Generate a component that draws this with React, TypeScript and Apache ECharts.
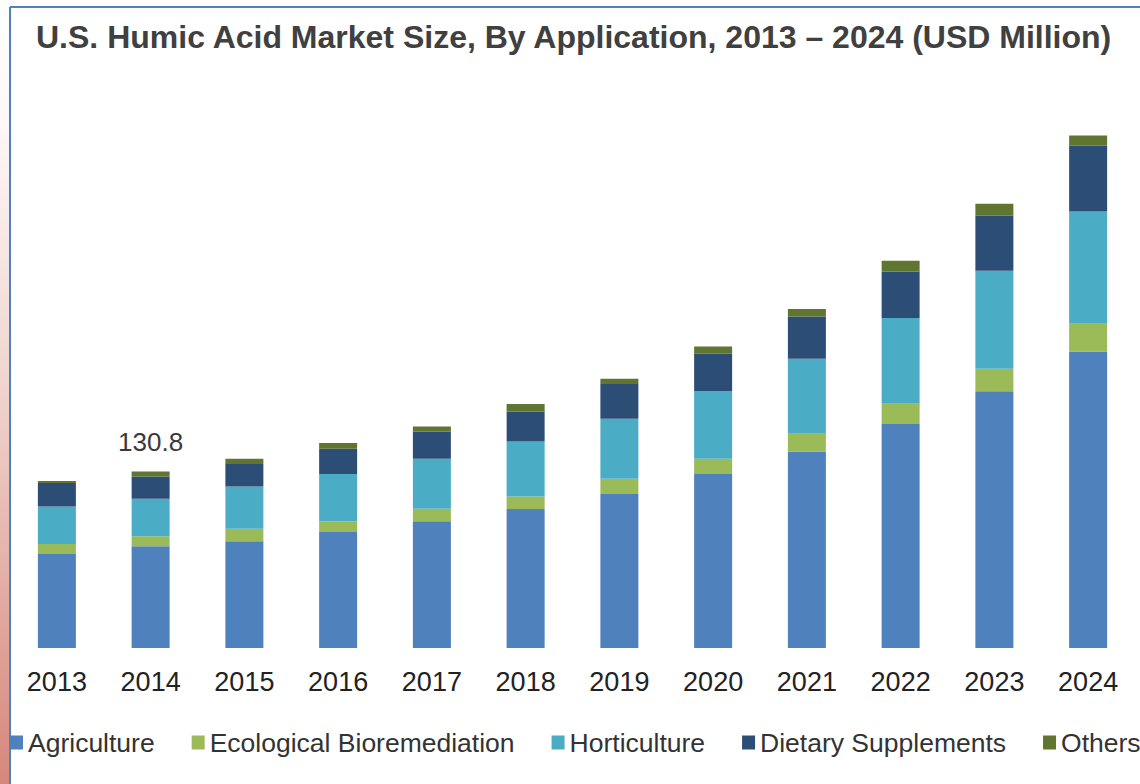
import React, { useEffect, useRef } from "react";
import * as echarts from "echarts";

const years = ["2013", "2014", "2015", "2016", "2017", "2018", "2019", "2020", "2021", "2022", "2023", "2024"];
const agriculture = [69.6, 75.3, 79.0, 85.9, 93.8, 103.0, 114.1, 128.9, 145.6, 165.9, 190.1, 219.7];
const ecological = [7.4, 7.4, 9.4, 7.9, 9.4, 9.3, 11.3, 11.3, 13.1, 15.0, 16.8, 20.5];
const horticulture = [27.9, 27.9, 31.3, 35.1, 37.0, 40.7, 44.4, 49.9, 55.6, 63.5, 72.6, 83.2];
const dietary = [17.3, 16.5, 16.6, 18.7, 20.2, 22.2, 25.7, 27.9, 31.3, 34.5, 40.7, 48.7];
const others = [1.5, 3.7, 3.9, 4.2, 3.7, 5.5, 3.9, 5.4, 5.5, 7.9, 8.9, 7.6];
const labeledIndex = 1;

const seriesNames = ["Agriculture", "Ecological Bioremediation", "Horticulture", "Dietary Supplements", "Others"];
const seriesColors = ["#4f81bd", "#9bbb59", "#4bacc6", "#2c4d75", "#5f7530"];

export default function App() {
  const ref = useRef<HTMLDivElement>(null);
  useEffect(() => {
    if (!ref.current) return;
    const chart = echarts.init(ref.current, undefined, { renderer: "svg" });
    const all = [agriculture, ecological, horticulture, dietary, others];
    const total = all.reduce((s, arr) => s + arr[labeledIndex], 0);
    const series = all.map((arr, si) => ({
      name: seriesNames[si],
      type: "bar",
      stack: "total",
      barWidth: 38,
      itemStyle: { color: seriesColors[si] },
      data:
        si === all.length - 1
          ? arr.map((v, i) =>
              i === labeledIndex
                ? {
                    value: v,
                    label: {
                      show: true,
                      position: "top",
                      distance: 16,
                      formatter: () => total.toFixed(1),
                      fontSize: 26,
                      color: "#3a3a3a",
                      fontFamily: "Liberation Sans, Arial, sans-serif",
                    },
                  }
                : v
            )
          : arr,
    }));
    chart.setOption({
      animation: false,
      backgroundColor: "#ffffff",
      textStyle: { fontFamily: "Liberation Sans, Arial, sans-serif" },
      title: {
        text: "U.S. Humic Acid Market Size, By Application, 2013 – 2024 (USD Million)",
        left: 36,
        top: 21,
        padding: 0,
        textStyle: {
          fontSize: 32,
          fontWeight: "bold",
          color: "#404040",
          fontFamily: "Liberation Sans, Arial, sans-serif",
        },
      },
      legend: {
        left: 10,
        top: 729,
        width: 1400,
        padding: 0,
        itemGap: 37,
        itemWidth: 13,
        itemHeight: 14,
        icon: "rect",
        textStyle: { fontSize: 26.5, color: "#333333", fontFamily: "Liberation Sans, Arial, sans-serif" },
        data: seriesNames,
      },
      grid: { left: 10, right: 5, top: 108, bottom: 136, containLabel: false },
      xAxis: {
        type: "category",
        data: years,
        axisLine: { show: false },
        axisTick: { show: false },
        axisLabel: { fontSize: 27, color: "#222222", margin: 20, fontFamily: "Liberation Sans, Arial, sans-serif" },
      },
      yAxis: {
        type: "value",
        min: 0,
        max: 400,
        show: false,
        splitLine: { show: false },
      },
      graphic: [
        {
          type: "rect",
          shape: { x: 0, y: 0, width: 9, height: 784 },
          style: {
            fill: new echarts.graphic.LinearGradient(0, 0, 0, 1, [
              { offset: 0, color: "#ffffff" },
              { offset: 0.15, color: "#fdf8f7" },
              { offset: 0.5, color: "#f0d3cd" },
              { offset: 1, color: "#d6877a" },
            ]),
          },
          z: 10,
        },
        {
          type: "line",
          shape: { x1: 10, y1: 7, x2: 10, y2: 784 },
          style: { stroke: "#4f81bd", lineWidth: 2 },
          z: 10,
        },
        {
          type: "line",
          shape: { x1: 10, y1: 7, x2: 1140, y2: 7 },
          style: { stroke: "#4f81bd", lineWidth: 2 },
          z: 10,
        },
      ],
      series,
    });
    return () => chart.dispose();
  }, []);
  return (
    <div
      ref={ref}
      style={{ position: "fixed", left: 0, top: 0, width: 1140, height: 784, overflow: "hidden" }}
    />
  );
}
